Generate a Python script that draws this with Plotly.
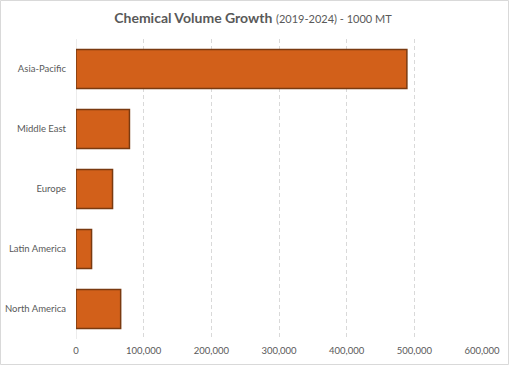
import plotly.graph_objects as go

regions = ["Asia-Pacific", "Middle East", "Europe", "Latin America", "North America"]
volumes = [489000, 79000, 54000, 23000, 66000]
x_ticks = [0, 100000, 200000, 300000, 400000, 500000, 600000]
x_tick_labels = ["0", "100,000", "200,000", "300,000", "400,000", "500,000", "600,000"]

W, H = 510, 366
ml, mr, mt, mb = 76, 28, 39, 27
pw, ph = W - ml - mr, H - mt - mb

fig = go.Figure()
fig.add_trace(go.Bar(
    y=regions, x=volumes, orientation="h",
    marker=dict(color="#D2601A", line=dict(color="#7A3A10", width=1.5)),
    hoverinfo="x+y",
))

fig.update_layout(
    width=W, height=H,
    margin=dict(l=ml, r=mr, t=mt, b=mb, autoexpand=False),
    paper_bgcolor="white", plot_bgcolor="white",
    bargap=0.35,
    showlegend=False,
    font=dict(family="Lato, Open Sans, sans-serif", color="#595959", size=10),
    title=dict(
        text="<b><span style='font-size:14px'>Chemical Volume Growth</span></b> <span style='font-size:11px'>(2019-2024) - 1000 MT</span>",
        x=253 / W, xanchor="center", y=1 - 18 / H, yanchor="middle",
        font=dict(family="Lato, Open Sans, sans-serif", color="#595959", size=14),
    ),
    xaxis=dict(
        range=[0, 600000], tickvals=x_ticks, ticktext=x_tick_labels,
        showgrid=True, gridcolor="#D9D9D9", griddash="4px,3px", gridwidth=1,
        zeroline=False, showline=False, ticks="", automargin=False,
        ticklabelstandoff=4,
        tickfont=dict(size=9.5, color="#595959"),
    ),
    yaxis=dict(
        autorange="reversed", showgrid=False, zeroline=False, ticks="",
        showline=False, ticklabelstandoff=9, automargin=False,
        tickfont=dict(size=9.5, color="#595959"),
    ),
    shapes=[
        dict(type="line", xref="x", yref="paper", x0=0, x1=0, y0=0, y1=1,
             line=dict(color="#D9D9D9", width=1), layer="below"),
        dict(type="rect", xref="paper", yref="paper",
             x0=(0.5 - ml) / pw, x1=(W - 1.5 - ml) / pw,
             y0=(H - mb - (H - 1.5)) / ph, y1=(H - mb - 0.5) / ph,
             line=dict(color="#D9D9D9", width=1)),
    ],
)
fig.write_html("out.html", config={"displayModeBar": False},
               post_script="document.body.style.margin='0';document.body.style.overflow='hidden';")
